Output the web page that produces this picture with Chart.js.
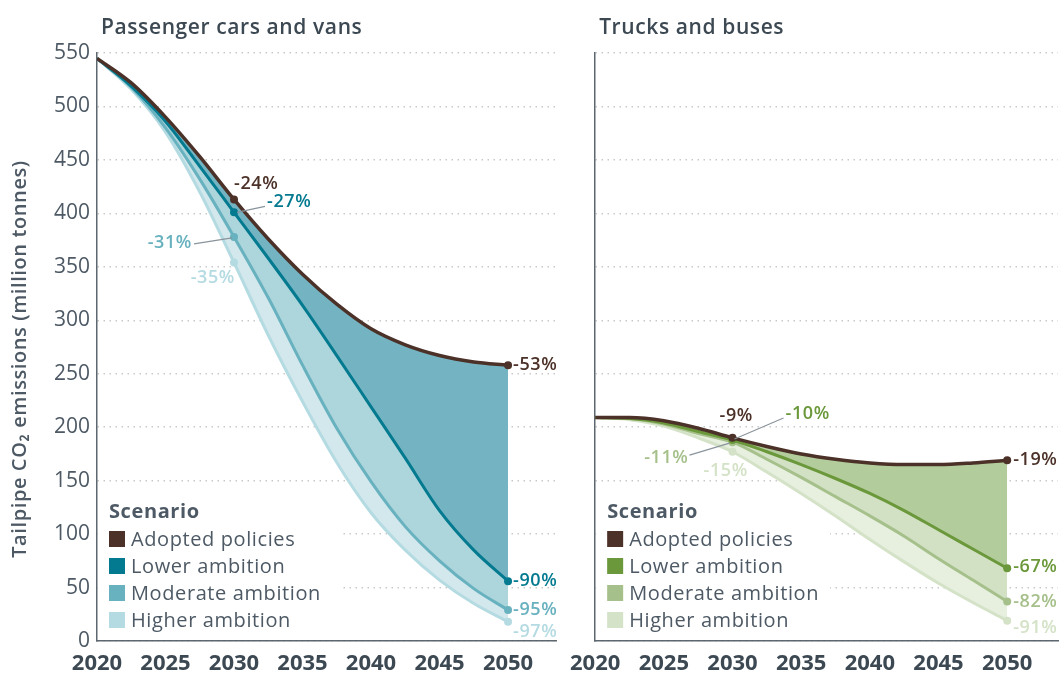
<!DOCTYPE html>
<html lang="en">
<head>
<meta charset="UTF-8">
<title>Tailpipe CO2 emissions</title>
<script src="https://cdn.jsdelivr.net/npm/chart.js"></script>
<style>
  body { margin: 0; background: #fff; }
  .panel { position: absolute; top: 0; height: 679px; }
  #panelLeft { left: 0; width: 560px; }
  #panelRight { left: 560px; width: 502px; }
</style>
</head>
<body>
<div class="panel" id="panelLeft"><canvas id="carsChart"></canvas></div>
<div class="panel" id="panelRight"><canvas id="trucksChart"></canvas></div>

<script>
  // ---- data ----
  const years = [2020, 2022.5, 2025, 2027.5, 2030, 2032.5, 2035, 2037.5, 2040, 2042.5, 2045, 2047.5, 2050];
  const xTicks = [2020, 2025, 2030, 2035, 2040, 2045, 2050];
  const yTicks = [0, 50, 100, 150, 200, 250, 300, 350, 400, 450, 500, 550];
  const scenarios = ["Adopted policies", "Lower ambition", "Moderate ambition", "Higher ambition"];
  const markYears = [2030, 2050];

  const carsAdopted  = [545, 522, 490, 453, 413, 376, 343, 315, 292, 277, 267, 261, 258];
  const carsLower    = [545, 519, 486, 444, 401, 358, 314, 267, 219, 171, 122, 85, 56];
  const carsModerate = [545, 518, 480, 432, 378, 321, 258, 199, 149, 107, 75, 49, 29];
  const carsHigher   = [545, 516, 476, 420, 354, 286, 224, 167, 120, 85, 57, 35, 18];

  const trucksAdopted  = [209, 209, 206, 199, 190, 182, 175, 170, 166.5, 165, 165, 166.5, 169];
  const trucksLower    = [209, 208, 204, 196, 188, 177, 165, 152, 138, 122, 104, 86, 68];
  const trucksModerate = [209, 208, 203, 194, 186, 170, 153, 135, 117, 98, 77, 57, 37];
  const trucksHigher   = [209, 207, 201, 190, 177, 158, 138, 117, 95, 74, 54, 36, 19];

  const carsPct2030 = ["-24%", "-27%", "-31%", "-35%"];
  const carsPct2050 = ["-53%", "-90%", "-95%", "-97%"];
  const trucksPct2030 = ["-9%", "-10%", "-11%", "-15%"];
  const trucksPct2050 = ["-19%", "-67%", "-82%", "-91%"];

  // ---- styles ----
  const FONT = "'Open Sans', sans-serif";
  const textDark = "#3c4852";
  const textGray = "#4d5964";
  const axisColor = "#5d6770";

  const carsLines = ["#4b3128", "#037a8f", "#68b1bf", "#b5dbe2"];
  const carsFills = ["transparent", "#74b4c2", "#acd5dc", "#d2e8ec"];
  const trucksLines = ["#4b3128", "#6a983a", "#a6c08b", "#d4e2c7"];
  const trucksFills = ["transparent", "#b3cc9c", "#d2e1c4", "#e7efdf"];

  // label offsets from the marker (pixels)
  const carsPos2030 = [
    { dx: 0, dy: -16, align: "left" },
    { dx: 33, dy: -10, align: "left", leader: [3, 0, 31, -6] },
    { dx: -42, dy: 6, align: "right", leader: [-40, 7, -2, 1] },
    { dx: 1, dy: 15, align: "right" }
  ];
  const carsPos2050 = [
    { dx: 5, dy: 0, align: "left" },
    { dx: 5, dy: 0, align: "left" },
    { dx: 5, dy: 0, align: "left" },
    { dx: 5, dy: 10, align: "left" }
  ];
  const trucksPos2030 = [
    { dx: -13, dy: -22, align: "left" },
    { dx: 53, dy: -26, align: "left", leader: [2, -1, 51, -22] },
    { dx: -44, dy: 16, align: "right", leader: [-43, 13, -3, 1] },
    { dx: -29, dy: 19, align: "left" }
  ];
  const trucksPos2050 = [
    { dx: 6, dy: 0, align: "left" },
    { dx: 6, dy: -1, align: "left" },
    { dx: 6, dy: 0, align: "left" },
    { dx: 6, dy: 7, align: "left" }
  ];

  function makeExtras(cfg) {
    return {
      id: "extras_" + cfg.id,
      beforeDatasetsDraw(chart) {
        // white box behind the legend hides the grid
        const ctx = chart.ctx;
        const a = chart.chartArea;
        ctx.save();
        ctx.fillStyle = "#fff";
        ctx.fillRect(a.left + 1, 490, cfg.legendWidth, a.bottom - 491);
        ctx.restore();
      },
      afterDatasetsDraw(chart) {
        const ctx = chart.ctx;
        const xs = chart.scales.x;
        const ys = chart.scales.y;
        ctx.save();
        ctx.font = "600 18px " + FONT;
        ctx.letterSpacing = "0.6px";
        ctx.textBaseline = "middle";
        for (let s = 0; s < cfg.series.length; s++) {
          const groups = [[2030, cfg.pct2030[s], cfg.pos2030[s]], [2050, cfg.pct2050[s], cfg.pos2050[s]]];
          groups.forEach(function (g) {
            const idx = years.indexOf(g[0]);
            const px = xs.getPixelForValue(g[0]);
            const py = ys.getPixelForValue(cfg.series[s][idx]);
            const p = g[2];
            if (p.leader) {
              ctx.strokeStyle = "#8a949c";
              ctx.lineWidth = 1.2;
              ctx.beginPath();
              ctx.moveTo(px + p.leader[0], py + p.leader[1]);
              ctx.lineTo(px + p.leader[2], py + p.leader[3]);
              ctx.stroke();
            }
            ctx.fillStyle = cfg.lines[s];
            ctx.textAlign = p.align;
            ctx.fillText(g[1], px + p.dx, py + p.dy);
          });
        }
        ctx.restore();
      },
      afterDraw(chart) {
        const ctx = chart.ctx;
        const a = chart.chartArea;
        ctx.save();
        ctx.letterSpacing = "0.6px";
        ctx.textBaseline = "middle";
        // y axis title
        if (cfg.showYTicks) {
          ctx.save();
          ctx.translate(20, (a.top + a.bottom) / 2 + 12);
          ctx.rotate(-Math.PI / 2);
          ctx.textAlign = "center";
          ctx.fillStyle = textGray;
          ctx.font = "600 20px " + FONT;
          ctx.fillText("Tailpipe CO\u2082 emissions (million tonnes)", 0, 0);
          ctx.restore();
        }
        // panel title
        ctx.fillStyle = textDark;
        ctx.font = "600 21px " + FONT;
        ctx.textAlign = "left";
        ctx.fillText(cfg.title, a.left + 4, 28);
        // legend
        const lx = a.left + 12;
        ctx.fillStyle = textGray;
        ctx.font = "700 20px " + FONT;
        ctx.fillText("Scenario", lx, 512);
        ctx.font = "400 20px " + FONT;
        scenarios.forEach(function (name, i) {
          const cy = 539 + i * 27;
          ctx.fillStyle = cfg.lines[i];
          ctx.fillRect(lx, cy - 8, 16, 16);
          ctx.fillStyle = textGray;
          ctx.fillText(name, lx + 22, cy + 1);
        });
        ctx.restore();
      }
    };
  }

  function buildPanel(cfg) {
    const datasets = cfg.series.map(function (vals, i) {
      return {
        label: scenarios[i],
        data: years.map(function (yr, k) { return { x: yr, y: vals[k] }; }),
        borderColor: cfg.lines[i],
        backgroundColor: cfg.fills[i],
        borderWidth: i === 0 ? 3.5 : 3,
        fill: i === 0 ? false : "-1",
        cubicInterpolationMode: "monotone",
        pointRadius: function (ctx) {
          return ctx.raw && markYears.includes(ctx.raw.x) ? 4 : 0;
        },
        pointBackgroundColor: cfg.lines[i],
        pointBorderWidth: 0,
        pointHoverRadius: 0
      };
    });

    const config = {
      type: "line",
      data: { datasets: datasets },
      options: {
        responsive: true,
        maintainAspectRatio: false,
        animation: false,
        events: [],
        layout: { padding: { top: 53, right: cfg.padRight, left: 0, bottom: 0 } },
        plugins: { legend: { display: false }, tooltip: { enabled: false } },
        scales: {
          x: {
            type: "linear",
            min: 2020,
            max: cfg.xMax,
            afterBuildTicks: function (scale) {
              scale.ticks = xTicks.map(function (v) { return { value: v }; });
            },
            afterFit: function (scale) { scale.height = 38; },
            grid: { display: false, drawTicks: false },
            border: { display: true, color: axisColor, width: 1.5 },
            ticks: {
              padding: 10,
              color: textDark,
              font: { family: FONT, size: 22, weight: "700" },
              maxRotation: 0,
              callback: function (v) { return String(v); }
            }
          },
          y: {
            min: 0,
            max: 550,
            afterBuildTicks: function (scale) {
              scale.ticks = yTicks.map(function (v) { return { value: v }; });
            },
            afterFit: function (scale) { scale.width = cfg.yWidth; },
            grid: { color: "#c9c9c9", lineWidth: 1.5, drawTicks: false },
            border: { display: true, color: axisColor, width: 1.5, dash: [1.5, 4.5] },
            ticks: {
              display: cfg.showYTicks,
              padding: 7,
              color: textGray,
              font: { family: FONT, size: 21, weight: "400" }
            }
          }
        }
      },
      plugins: [makeExtras(cfg)]
    };

    return new Chart(document.getElementById(cfg.canvas), config);
  }

  buildPanel({
    id: "cars",
    canvas: "carsChart",
    title: "Passenger cars and vans",
    series: [carsAdopted, carsLower, carsModerate, carsHigher],
    lines: carsLines,
    fills: carsFills,
    pct2030: carsPct2030,
    pct2050: carsPct2050,
    pos2030: carsPos2030,
    pos2050: carsPos2050,
    xMax: 2053.5,
    padRight: 3,
    yWidth: 97,
    showYTicks: true,
    legendWidth: 245
  });

  buildPanel({
    id: "trucks",
    canvas: "trucksChart",
    title: "Trucks and buses",
    series: [trucksAdopted, trucksLower, trucksModerate, trucksHigher],
    lines: trucksLines,
    fills: trucksFills,
    pct2030: trucksPct2030,
    pct2050: trucksPct2050,
    pos2030: trucksPos2030,
    pos2050: trucksPos2050,
    xMax: 2053.7,
    padRight: 0,
    yWidth: 31,
    showYTicks: false,
    legendWidth: 234
  });
</script>
</body>
</html>
